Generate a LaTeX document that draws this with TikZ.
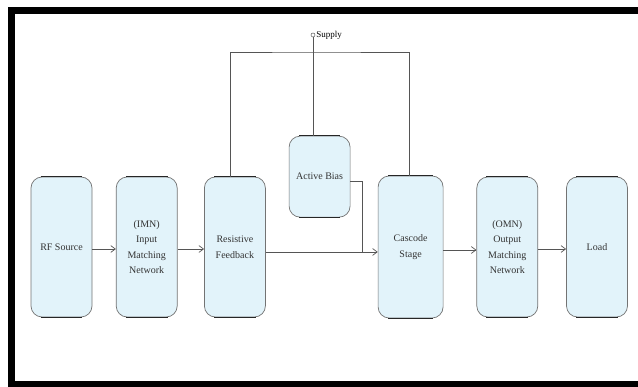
\documentclass[tikz,border=0pt]{standalone}
\usepackage{fontspec}
\setmainfont{Liberation Serif}
\usepackage{tikz}
\usetikzlibrary{arrows.meta,positioning,calc}
\definecolor{blkfill}{RGB}{226,243,250}
\definecolor{blkline}{RGB}{115,115,115}
\definecolor{wire}{RGB}{85,85,85}
\tikzset{
  blk/.style  ={draw=blkline, rounded corners=11pt, fill=blkfill, align=center, font=\rmfamily\fontsize{10}{15.5}\selectfont,
                text=black!80, minimum width=61pt, minimum height=140pt, inner sep=2pt, line width=0.7pt},
  rim/.style  ={line width=1.4pt, draw=black!85},
  arr/.style  ={-{Straight Barb[length=1.6mm,width=2.4mm]}, draw=wire, line width=0.7pt},
  wr/.style   ={draw=wire, line width=0.7pt},
  term/.style ={circle, draw=wire, line width=0.5pt, minimum size=4pt, inner sep=0pt, fill=white},
}

\begin{document}
\begin{tikzpicture}[x=1pt, y=1pt]
  \useasboundingbox (0,0) rectangle (638,387);

  % ---- outer frame ----
  \draw[line width=7pt, line cap=butt] (638,376.5) -- (11.5,376.5) -- (11.5,2.5) -- (638,2.5);

  % ---- signal chain ----
  \node[blk] (rfs) at (61.5,140) {RF Source};
  \node[blk, right=23.5pt of rfs] (imn) {(IMN)\\Input\\Matching\\Network};
  \node[blk, right=26.5pt of imn] (rfb) {Resistive\\Feedback};
  \node[blk, minimum width=65pt, minimum height=142pt, right=112pt of rfb] (cas) {Cascode\\Stage};
  \node[blk, right=33pt of cas] (omn) {(OMN)\\Output\\Matching\\Network};
  \node[blk, right=28pt of omn] (load) {Load};

  % ---- bias branch ----
  \node[blk, minimum height=81pt, right=23pt of rfb.north east] (ab) {Active Bias};

  % darker top and bottom rims
  \foreach \n in {rfs,imn,rfb,cas,omn,load,ab} {
    \draw[rim] ([xshift=10pt]\n.north west) -- ([xshift=-10pt]\n.north east);
    \draw[rim] ([xshift=10pt]\n.south west) -- ([xshift=-10pt]\n.south east);
  }

  \draw[arr] ([yshift=-2pt]rfs.east) -- ([yshift=-2pt]imn.west);
  \draw[arr] ([yshift=-2pt]imn.east) -- ([yshift=-2pt]rfb.west);
  \draw[arr] ([yshift=-5pt]rfb.east) -- ([yshift=-5pt]rfb.east -| cas.west);
  \draw[arr] ([yshift=-3pt]cas.east) -- ([yshift=-3pt]cas.east -| omn.west);
  \draw[arr] ([yshift=-2pt]omn.east) -- ([yshift=-2pt]load.west);

  \coordinate (jn) at ($([yshift=-5pt]rfb.east -| ab.east)+(12,0)$);
  \draw[wr] ([yshift=-5pt]ab.east) -| (jn);

  % ---- supply rail ----
  \node[term] (sup) at (313,352) {};
  \node[font=\rmfamily\fontsize{9}{10}\selectfont, right=0pt of sup, inner sep=1pt] (suptxt) {Supply};
  \coordinate (rail) at (313,335);
  \draw[wr] (sup.south) -- (sup.south |- ab.north);
  \draw[wr] ([xshift=-4.5pt]rfb.north) |- (rail) -| ([xshift=-1.5pt]cas.north);
\end{tikzpicture}
\end{document}
